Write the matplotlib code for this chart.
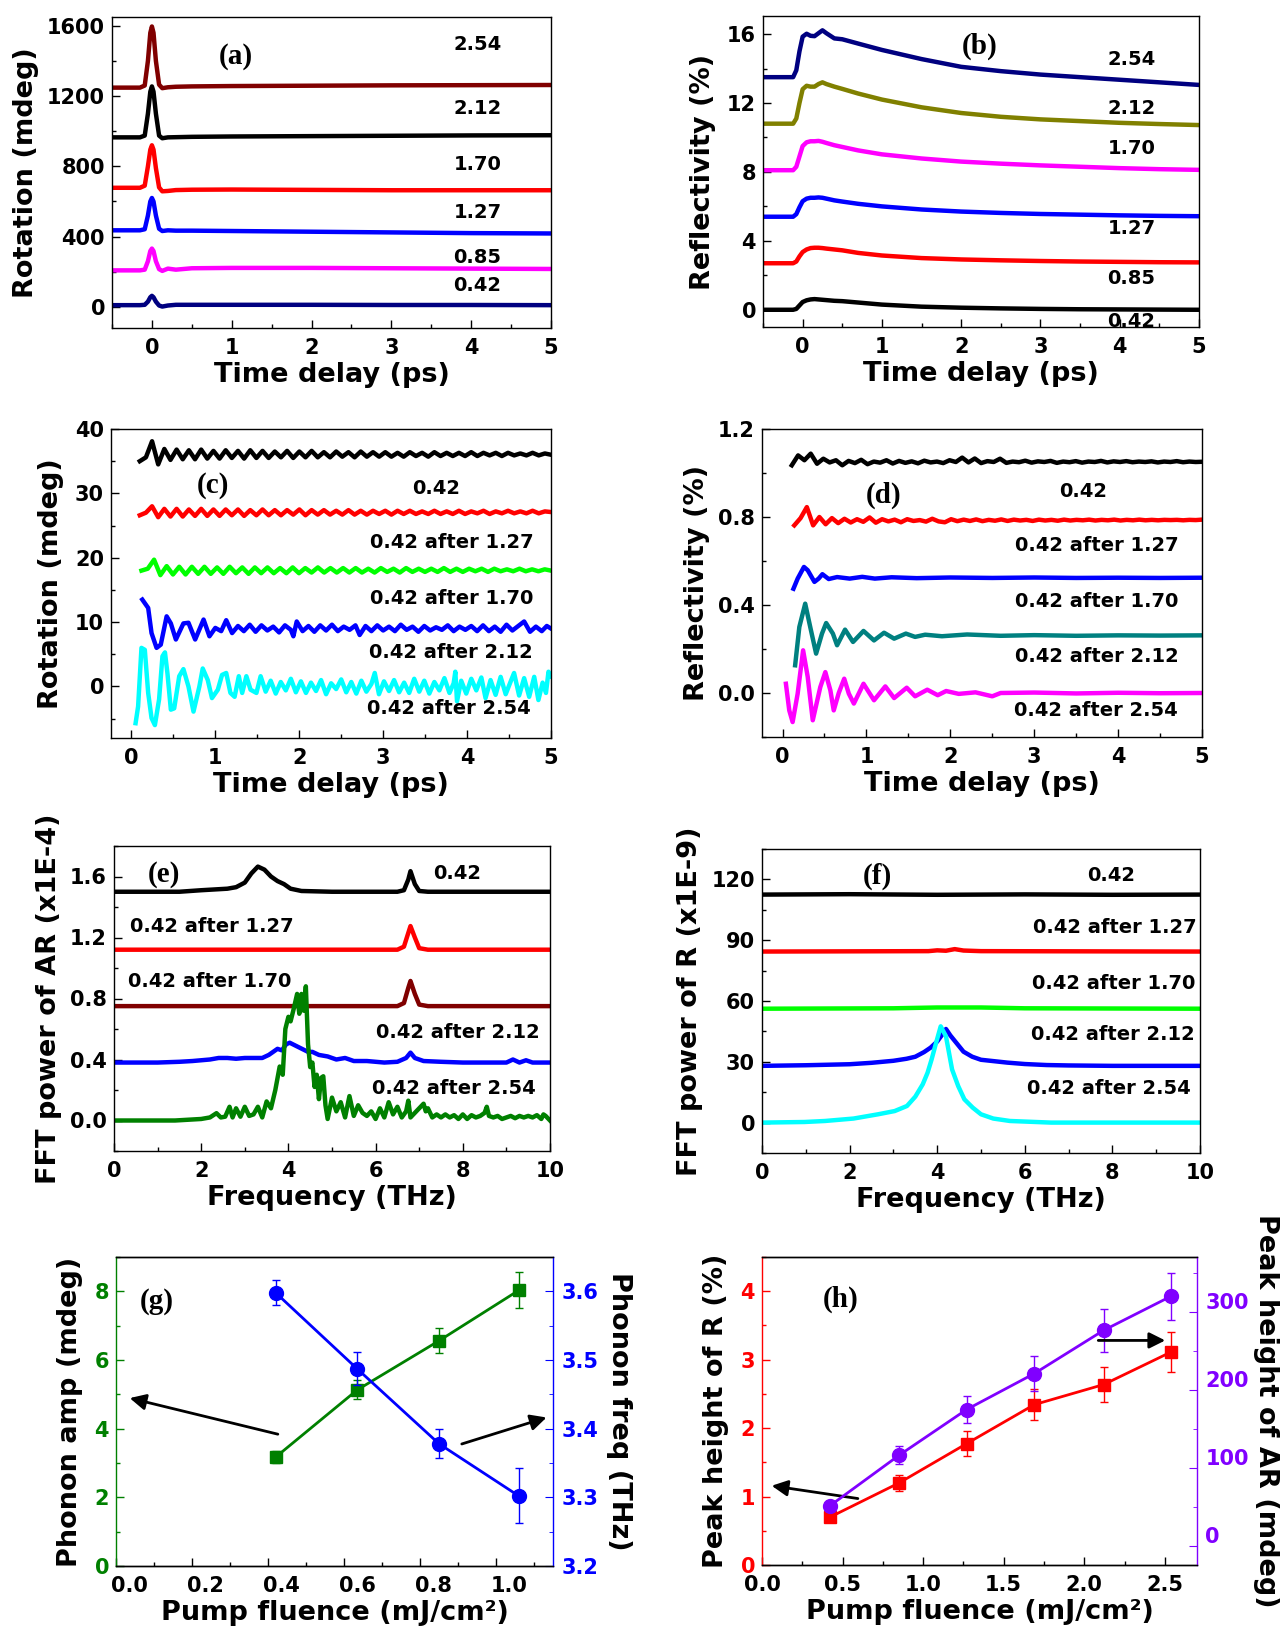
import numpy as np
import matplotlib
matplotlib.use('Agg')
from matplotlib import pyplot as plt
from matplotlib.ticker import MultipleLocator, FormatStrFormatter
from matplotlib.transforms import ScaledTranslation

plt.rcParams['font.family'] = 'DejaVu Sans'
plt.rcParams['font.weight'] = 'bold'
plt.rcParams['axes.labelweight'] = 'bold'
plt.rcParams['axes.linewidth'] = 1.0

# ---------------- (a) rotation vs delay, fluences
t_a = [-0.5, -0.15, -0.09, -0.05, -0.02, 0.0, 0.02, 0.05, 0.09, 0.13, 0.2, 0.3, 0.5, 1.0, 2.0, 3.0, 4.0, 5.0]
rot_042 = [10, 10, 12, 30, 55, 63, 55, 30, 8, 2, 8, 12, 12, 12, 12, 11, 11, 10]
rot_085 = [208, 208, 212, 260, 318, 332, 318, 260, 215, 205, 218, 212, 220, 222, 222, 220, 218, 216]
rot_127 = [436, 436, 442, 520, 600, 620, 600, 520, 445, 432, 436, 434, 434, 432, 428, 424, 420, 418]
rot_170 = [678, 678, 690, 800, 895, 920, 895, 790, 680, 658, 660, 665, 667, 668, 666, 664, 664, 664]
rot_212 = [965, 965, 975, 1100, 1225, 1255, 1225, 1100, 975, 960, 965, 966, 968, 970, 972, 974, 976, 977]
rot_254 = [1248, 1248, 1260, 1400, 1560, 1596, 1560, 1400, 1265, 1245, 1250, 1253, 1255, 1257, 1259, 1261, 1262, 1263]
fluences = ['0.42', '0.85', '1.27', '1.70', '2.12', '2.54']
lab_a_y = [120, 282, 539, 811, 1130, 1491]

# ---------------- (b) reflectivity vs delay
t_b = [-0.5, -0.12, -0.08, -0.04, 0.0, 0.05, 0.1, 0.15, 0.2, 0.25, 0.3, 0.4, 0.5, 0.7,
       1.0, 1.5, 2.0, 2.5, 3.0, 3.5, 4.0, 4.5, 5.0]
refl_042 = [0, 0, 0.05, 0.25, 0.45, 0.55, 0.6, 0.62, 0.6, 0.58, 0.56, 0.52, 0.5, 0.42,
            0.3, 0.18, 0.12, 0.08, 0.05, 0.03, 0.02, 0.01, 0.0]
refl_085 = [2.7, 2.7, 2.8, 3.1, 3.35, 3.5, 3.58, 3.6, 3.6, 3.58, 3.55, 3.5, 3.45, 3.3,
            3.15, 3.0, 2.92, 2.87, 2.83, 2.8, 2.78, 2.76, 2.75]
refl_127 = [5.4, 5.4, 5.55, 5.95, 6.3, 6.45, 6.5, 6.5, 6.52, 6.5, 6.45, 6.35, 6.28, 6.15,
            6.0, 5.82, 5.7, 5.62, 5.56, 5.52, 5.48, 5.45, 5.43]
refl_170 = [8.1, 8.1, 8.3, 8.9, 9.5, 9.72, 9.78, 9.78, 9.8, 9.75, 9.68, 9.55, 9.45, 9.25,
            9.02, 8.78, 8.6, 8.48, 8.38, 8.3, 8.22, 8.16, 8.12]
refl_212 = [10.8, 10.8, 11.1, 12.0, 12.8, 13.0, 12.95, 12.95, 13.1, 13.2, 13.1, 12.95, 12.82, 12.55,
            12.2, 11.75, 11.42, 11.2, 11.05, 10.95, 10.85, 10.78, 10.72]
refl_254 = [13.5, 13.5, 13.9, 15.0, 15.85, 16.02, 15.9, 15.88, 16.05, 16.22, 16.05, 15.75, 15.7, 15.45,
            15.08, 14.55, 14.1, 13.85, 13.65, 13.5, 13.35, 13.2, 13.05]
lab_b_y = [-0.66, 1.80, 4.71, 9.36, 11.69, 14.5]

# ---------------- (c) rotation, 0.42 after higher fluences
c_042 = [
    35.0, 35.6, 38.1, 34.5, 36.9, 35.2, 36.8, 35.3, 36.7, 35.3,
    36.8, 35.4, 36.6, 35.4, 36.7, 35.5, 36.6, 35.4, 36.7, 35.5,
    36.6, 35.5, 36.5, 35.6, 36.6, 35.5, 36.5, 35.6, 36.6, 35.6,
    36.4, 35.6, 36.5, 35.7, 36.4, 35.6, 36.5, 35.7, 36.4, 35.7,
    36.4, 35.7, 36.3, 35.7, 36.4, 35.8, 36.3, 35.7, 36.4, 35.8,
    36.3, 35.8, 36.3, 35.8, 36.4, 35.8, 36.3, 35.9, 36.3, 35.8,
    36.3, 35.9, 36.2, 35.9, 36.3, 35.9, 36.2, 36.0]
c_127 = [
    26.6, 27.0, 28.0, 26.3, 27.6, 26.4, 27.6, 26.4, 27.5, 26.5,
    27.6, 26.5, 27.5, 26.5, 27.5, 26.6, 27.5, 26.5, 27.4, 26.6,
    27.5, 26.6, 27.4, 26.6, 27.4, 26.7, 27.5, 26.6, 27.4, 26.7,
    27.4, 26.7, 27.3, 26.7, 27.4, 26.7, 27.3, 26.7, 27.3, 26.8,
    27.3, 26.7, 27.3, 26.8, 27.3, 26.8, 27.2, 26.8, 27.3, 26.8,
    27.2, 26.8, 27.3, 26.8, 27.2, 26.9, 27.3, 26.8, 27.2, 26.9,
    27.3, 26.9, 27.2, 26.9, 27.3, 26.9, 27.2, 27.1]
c_170 = [
    18.0, 18.3, 19.7, 17.3, 18.7, 17.4, 18.6, 17.4, 18.6, 17.5,
    18.6, 17.5, 18.5, 17.5, 18.6, 17.6, 18.5, 17.5, 18.5, 17.6,
    18.5, 17.6, 18.4, 17.6, 18.5, 17.6, 18.4, 17.7, 18.5, 17.7,
    18.4, 17.7, 18.4, 17.7, 18.4, 17.7, 18.3, 17.7, 18.4, 17.8,
    18.3, 17.7, 18.4, 17.8, 18.3, 17.8, 18.3, 17.8, 18.4, 17.8,
    18.3, 17.8, 18.3, 17.9, 18.3, 17.8, 18.3, 17.9, 18.2, 17.9,
    18.3, 17.9, 18.2, 17.9, 18.2, 18.0]
t_c212 = [
    0.13, 0.20, 0.24, 0.30, 0.35, 0.42, 0.47, 0.53, 0.62, 0.68,
    0.76, 0.86, 0.93, 1.00, 1.07, 1.13, 1.20, 1.27, 1.34, 1.41,
    1.48, 1.55, 1.62, 1.69, 1.76, 1.83, 1.90, 1.93, 1.97, 2.04,
    2.11, 2.18, 2.25, 2.32, 2.39, 2.46, 2.53, 2.60, 2.67, 2.72,
    2.79, 2.86, 2.93, 3.00, 3.07, 3.14, 3.21, 3.28, 3.35, 3.42,
    3.49, 3.56, 3.63, 3.70, 3.77, 3.84, 3.91, 3.98, 4.05, 4.12,
    4.19, 4.26, 4.33, 4.40, 4.47, 4.54, 4.61, 4.68, 4.75, 4.82,
    4.89, 4.95, 5.00]
c_212 = [
    13.5, 12.2, 8.3, 6.0, 6.5, 10.9, 9.8, 7.3, 9.8, 9.9,
    7.3, 10.4, 7.8, 9.1, 8.6, 10.3, 8.3, 9.4, 8.6, 9.6,
    8.5, 9.5, 8.7, 9.3, 8.4, 9.5, 8.8, 7.8, 10.1, 8.6,
    9.4, 8.5, 9.5, 8.7, 9.6, 8.6, 9.3, 8.8, 9.5, 8.0,
    9.4, 8.6, 9.5, 8.7, 9.3, 8.6, 9.6, 8.8, 9.3, 8.5,
    9.4, 8.7, 9.2, 8.8, 9.5, 8.6, 9.3, 8.8, 9.4, 8.6,
    9.5, 8.6, 9.3, 8.5, 9.6, 8.7, 9.4, 10.1, 8.5, 9.3,
    8.6, 9.4, 9.0]
t_c254 = [
    0.05, 0.08, 0.12, 0.16, 0.20, 0.24, 0.28, 0.33, 0.37, 0.40,
    0.43, 0.47, 0.51, 0.57, 0.62, 0.68, 0.74, 0.81, 0.85, 0.91,
    0.96, 1.03, 1.08, 1.13, 1.18, 1.23, 1.28, 1.32, 1.37, 1.42,
    1.49, 1.54, 1.60, 1.66, 1.72, 1.78, 1.84, 1.90, 1.96, 2.02,
    2.08, 2.14, 2.20, 2.26, 2.32, 2.38, 2.44, 2.50, 2.56, 2.62,
    2.68, 2.74, 2.80, 2.86, 2.90, 2.95, 3.01, 3.07, 3.13, 3.19,
    3.25, 3.31, 3.37, 3.43, 3.49, 3.55, 3.61, 3.67, 3.73, 3.79,
    3.84, 3.86, 3.88, 3.93, 3.99, 4.05, 4.11, 4.17, 4.22, 4.28,
    4.34, 4.40, 4.46, 4.52, 4.56, 4.62, 4.68, 4.74, 4.80, 4.85,
    4.90, 4.94, 4.97, 5.00]
c_254 = [
    -5.7, -3.1, 6.0, 5.7, -1.0, -4.9, -6.0, -2.0, 4.7, 5.3,
    2.0, -3.6, -3.4, 1.6, 2.7, 0.0, -3.9, 0.0, 2.8, 1.0,
    -1.8, -0.5, 1.8, 2.1, -1.0, -1.6, 1.6, -1.0, 1.6, -0.5,
    -1.0, 1.6, -0.8, 0.9, -1.1, 0.7, -0.6, 1.2, -0.9, 0.8,
    -1.0, 0.6, -0.7, 1.0, -1.2, 0.5, -0.4, 1.1, -0.9, 0.7,
    -1.1, 0.9, -0.8, 0.4, 2.1, -1.2, 0.8, -0.7, 1.0, -0.9,
    0.6, -1.0, 1.2, -0.8, 0.9, -1.1, 0.7, -0.6, 1.3, -1.0,
    0.5, 2.3, -2.3, 0.9, -1.1, 1.2, -0.6, 1.4, -1.8, 1.0,
    -1.3, 1.5, -1.2, 0.8, 2.1, -1.4, 1.3, -1.6, 1.5, -2.1,
    0.6, -1.0, 2.3, 1.6]
after = ['0.42', '0.42 after 1.27', '0.42 after 1.70', '0.42 after 2.12', '0.42 after 2.54']

# ---------------- (d) reflectivity, 0.42 after higher fluences
d_042 = [
    1.035, 1.08, 1.058, 1.088, 1.042, 1.065, 1.048, 1.058, 1.035, 1.055,
    1.045, 1.06, 1.04, 1.052, 1.047, 1.058, 1.043, 1.055, 1.046, 1.053,
    1.044, 1.056, 1.048, 1.052, 1.045, 1.058, 1.05, 1.07, 1.048, 1.066,
    1.045, 1.054, 1.05, 1.065, 1.046, 1.052, 1.049, 1.056, 1.047, 1.053,
    1.05, 1.055, 1.046, 1.052, 1.049, 1.054, 1.047, 1.052, 1.05, 1.055,
    1.048, 1.053, 1.05, 1.054, 1.049, 1.052, 1.05, 1.053, 1.048, 1.052,
    1.05, 1.054, 1.049, 1.052, 1.05, 1.051]
d_127 = [
    0.762, 0.795, 0.845, 0.762, 0.80, 0.767, 0.795, 0.772, 0.792, 0.775,
    0.79, 0.778, 0.798, 0.774, 0.79, 0.78, 0.788, 0.776, 0.79, 0.782,
    0.786, 0.779, 0.792, 0.78, 0.776, 0.79, 0.781, 0.788, 0.782, 0.789,
    0.781, 0.787, 0.783, 0.789, 0.782, 0.788, 0.784, 0.787, 0.782, 0.788,
    0.784, 0.787, 0.783, 0.788, 0.784, 0.787, 0.785, 0.788, 0.784, 0.787,
    0.785, 0.788, 0.784, 0.787, 0.785, 0.788, 0.785, 0.787, 0.785, 0.787,
    0.786, 0.787, 0.785, 0.787, 0.786, 0.788]
t_d170 = [0.13, 0.18, 0.255, 0.30, 0.38, 0.43, 0.475, 0.55, 0.65, 0.8, 0.95,
          1.1, 1.3, 1.6, 2.0, 2.5, 3.0, 3.5, 4.0, 4.5, 5.0]
d_170 = [0.474, 0.52, 0.573, 0.558, 0.505, 0.52, 0.54, 0.518, 0.527, 0.52, 0.528,
         0.52, 0.526, 0.522, 0.525, 0.523, 0.525, 0.523, 0.524, 0.523, 0.524]
t_d212 = [0.15, 0.2, 0.27, 0.33, 0.40, 0.47, 0.52, 0.6, 0.65, 0.745, 0.84, 0.965, 1.09,
          1.21, 1.33, 1.47, 1.58, 1.7, 1.9, 2.2, 2.6, 3.0, 3.5, 4.0, 4.5, 5.0]
d_212 = [0.126, 0.30, 0.406, 0.30, 0.179, 0.27, 0.318, 0.27, 0.217, 0.288, 0.232, 0.282, 0.239,
         0.274, 0.247, 0.27, 0.255, 0.265, 0.258, 0.266, 0.26, 0.263, 0.26, 0.262, 0.261, 0.262]
t_d254 = [0.04, 0.08, 0.12, 0.18, 0.245, 0.30, 0.36, 0.45, 0.51, 0.57, 0.61,
          0.67, 0.735, 0.79, 0.85, 0.965, 1.09, 1.225, 1.33, 1.48, 1.58, 1.725,
          1.85, 1.95, 2.1, 2.3, 2.5, 2.6, 3.0, 3.5, 4.0, 4.5, 5.0]
d_254 = [0.042, -0.079, -0.132, -0.003, 0.194, 0.073, -0.124, 0.027, 0.095, 0.012, -0.079,
         0.0, 0.065, -0.003, -0.048, 0.042, -0.033, 0.03, -0.023, 0.024, -0.015, 0.015,
         -0.01, 0.009, -0.004, 0.003, -0.015, 0.0, 0.002, -0.002, 0.001, -0.001, 0.0]

# ---------------- (e) FFT power of rotation
f_e042 = [0, 1.5, 2.0, 2.3, 2.6, 2.8, 3.0, 3.15, 3.3, 3.45, 3.6, 3.75, 3.9, 4.05,
          4.3, 5.0, 6.0, 6.5, 6.65, 6.75, 6.8, 6.9, 7.0, 7.2, 8.0, 9.0, 10.0]
e_042 = [1.50, 1.50, 1.51, 1.515, 1.52, 1.53, 1.56, 1.62, 1.665, 1.645, 1.60, 1.57, 1.55, 1.52,
         1.505, 1.50, 1.50, 1.50, 1.51, 1.58, 1.635, 1.55, 1.505, 1.50, 1.50, 1.50, 1.50]
f_e68 = [0, 6.5, 6.65, 6.75, 6.8, 6.9, 7.0, 7.2, 10.0]
e_127 = [1.12, 1.12, 1.14, 1.23, 1.275, 1.20, 1.13, 1.12, 1.12]
e_170 = [0.75, 0.75, 0.77, 0.87, 0.915, 0.83, 0.76, 0.75, 0.75]
f_e212 = [0, 1.0, 1.5, 1.8, 2.0, 2.2, 2.4, 2.6, 2.8, 3.0,
          3.2, 3.4, 3.55, 3.65, 3.75, 3.85, 3.95, 4.03, 4.45, 4.55,
          4.7, 4.9, 5.1, 5.3, 5.5, 5.8, 6.2, 6.5, 6.7, 6.8,
          6.9, 7.1, 7.5, 8.0, 8.5, 9.0, 9.15, 9.3, 9.45, 9.6, 10.0]
e_212 = [0.38, 0.38, 0.385, 0.39, 0.395, 0.40, 0.41, 0.41, 0.405, 0.41,
         0.41, 0.41, 0.43, 0.45, 0.47, 0.46, 0.5, 0.51, 0.45, 0.45,
         0.43, 0.42, 0.40, 0.41, 0.39, 0.39, 0.38, 0.385, 0.41, 0.445,
         0.41, 0.39, 0.385, 0.38, 0.38, 0.38, 0.40, 0.38, 0.395, 0.38, 0.38]
f_e254 = [0.0, 1.4, 1.7, 2.0, 2.2, 2.35, 2.45, 2.55, 2.65, 2.72,
          2.8, 2.9, 3.0, 3.1, 3.2, 3.3, 3.4, 3.5, 3.6, 3.7,
          3.8, 3.87, 3.93, 4.0, 4.05, 4.12, 4.2, 4.25, 4.3, 4.35,
          4.4, 4.45, 4.5, 4.55, 4.6, 4.65, 4.7, 4.75, 4.8, 4.85,
          4.9, 5.0, 5.1, 5.2, 5.3, 5.4, 5.5, 5.6, 5.7, 5.8,
          5.9, 6.0, 6.1, 6.2, 6.3, 6.4, 6.5, 6.6, 6.7, 6.75,
          6.8, 6.9, 7.0, 7.1, 7.15, 7.2, 7.3, 7.4, 7.5, 7.6,
          7.7, 7.8, 7.9, 8.0, 8.1, 8.2, 8.3, 8.4, 8.5, 8.55,
          8.6, 8.7, 8.8, 8.9, 9.0, 9.1, 9.2, 9.3, 9.4, 9.5,
          9.6, 9.7, 9.8, 9.85, 9.9, 10.0]
e_254 = [0.0, 0.0, 0.005, 0.01, 0.02, 0.048, 0.02, 0.025, 0.09, 0.02,
         0.08, 0.025, 0.09, 0.03, 0.04, 0.09, 0.02, 0.125, 0.08, 0.2,
         0.354, 0.3, 0.6, 0.68, 0.65, 0.73, 0.83, 0.7, 0.83, 0.72,
         0.88, 0.5, 0.35, 0.38, 0.22, 0.3, 0.14, 0.28, 0.29, 0.1,
         0.01, 0.15, 0.06, 0.12, 0.02, 0.16, 0.03, 0.1, 0.05, 0.03,
         0.06, 0.01, 0.08, 0.02, 0.12, 0.04, 0.09, 0.02, 0.06, 0.13,
         0.02, 0.05, 0.08, 0.11, 0.06, 0.08, 0.02, 0.04, 0.02, 0.04,
         0.02, 0.035, 0.01, 0.04, 0.01, 0.035, 0.02, 0.03, 0.05, 0.09,
         0.03, 0.02, 0.03, 0.01, 0.02, 0.03, 0.015, 0.03, 0.02, 0.03,
         0.02, 0.035, 0.01, 0.04, 0.03, 0.0]

# ---------------- (f) FFT power of reflectivity
f_f042 = [0, 2, 4, 6, 8, 10]
p_042 = [112.5, 112.7, 112.4, 112.6, 112.4, 112.5]
f_f127 = [0, 3.8, 4.0, 4.2, 4.4, 4.6, 5.0, 10]
p_127 = [84.4, 84.6, 85.0, 84.8, 85.6, 84.9, 84.6, 84.4]
f_f170 = [0, 3, 4, 5, 6, 10]
p_170 = [56.2, 56.4, 56.8, 56.8, 56.4, 56.2]
f_f212 = [0, 1, 2, 2.5, 3.0, 3.3, 3.5, 3.7, 3.85, 4.0, 4.1, 4.2, 4.3, 4.45,
          4.6, 4.8, 5.0, 5.3, 5.6, 6.0, 6.5, 7, 8, 10]
p_212 = [28, 28.3, 28.8, 29.5, 30.5, 31.5, 32.5, 34.8, 37, 40, 43, 46.2, 43, 39,
         35, 32.5, 31, 30.3, 29.6, 28.9, 28.4, 28.2, 28, 28]
f_f254 = [0, 0.97, 1.44, 2.09, 2.65, 3.03, 3.31, 3.5, 3.67, 3.78, 3.87, 3.97,
          4.08, 4.2, 4.34, 4.48, 4.62, 4.81, 5.0, 5.28, 5.66, 6.6, 8.0, 10.0]
p_254 = [0, 0.3, 0.8, 2.0, 4.1, 5.7, 8.2, 12.8, 18.9, 24.6, 31.0, 39.0,
         47.5, 42.6, 26.2, 18.0, 11.5, 7.4, 4.1, 2.0, 0.8, 0.0, 0.0, 0.0]

# ---------------- (g) phonon amplitude / frequency
fl_g = [0.42, 0.635, 0.85, 1.06]
amp_g = [3.17, 5.13, 6.56, 8.03]
amp_err = [0.17, 0.28, 0.37, 0.52]
freq_g = [3.598, 3.487, 3.378, 3.302]
freq_err = [0.018, 0.024, 0.021, 0.04]

# ---------------- (h) peak heights
fl_h = [0.42, 0.85, 1.27, 1.69, 2.12, 2.54]
pk_R = [0.697, 1.198, 1.773, 2.343, 2.636, 3.113]
pk_R_err = [0.05, 0.12, 0.18, 0.23, 0.26, 0.29]
pk_AR = [50.7, 115.6, 174.4, 220.5, 275.9, 319.8]
pk_AR_err = [5, 11.7, 17.5, 22, 28, 30]

W, H = 1284, 1638
fig = plt.figure(figsize=(W / 100, H / 100), dpi=100)


def panel(l, t, r, b):
    return fig.add_axes([l / W, 1 - b / H, (r - l) / W, (b - t) / H])


def style(ax, xmaj, xmin, ymaj, ymin):
    ax.xaxis.set_major_locator(MultipleLocator(xmaj))
    ax.xaxis.set_minor_locator(MultipleLocator(xmin))
    ax.yaxis.set_major_locator(MultipleLocator(ymaj))
    ax.yaxis.set_minor_locator(MultipleLocator(ymin))
    ax.tick_params(which='both', direction='in', top=False, right=False,
                   labelsize=15, width=1)
    ax.tick_params(which='major', length=6)
    ax.tick_params(which='minor', length=3)
    ax.tick_params(axis='x', pad=7)
    ax.tick_params(axis='y', pad=5)


def tag(ax, x, y, s):
    ax.text(x, y, s, family='Liberation Serif', fontsize=21, fontweight='bold',
            ha='center', va='center')


def note(ax, x, y, s, **kw):
    ax.text(x, y, s, fontsize=14, fontweight='bold', ha='center', va='center', **kw)


def shift_labels(labels, dx, dy):
    for lb in labels:
        lb.set_transform(lb.get_transform() + ScaledTranslation(dx / 100, dy / 100, fig.dpi_scale_trans))


LW = 3.2
XL = 19.5

# (a)
ax = panel(112, 17, 551, 328)
cols_a = ['#000080', '#ff00ff', '#0000ff', '#ff0000', '#000000', '#800000']
for y, c in zip([rot_042, rot_085, rot_127, rot_170, rot_212, rot_254], cols_a):
    ax.plot(t_a, y, color=c, lw=LW)
for s, y in zip(fluences, lab_a_y):
    note(ax, 4.08, y, s)
tag(ax, 1.05, 1425, '(a)')
ax.set_xlim(-0.5, 5)
ax.set_ylim(-120, 1650)
style(ax, 1, 0.5, 400, 200)
ax.set_xlabel('Time delay (ps)', fontsize=XL, labelpad=3)
ax.set_ylabel('Rotation (mdeg)', fontsize=XL, labelpad=6)

# (b)
ax = panel(763, 16, 1199, 327)
cols_b = ['#000000', '#ff0000', '#0000ff', '#ff00ff', '#808000', '#000080']
for y, c in zip([refl_042, refl_085, refl_127, refl_170, refl_212, refl_254], cols_b):
    ax.plot(t_b, y, color=c, lw=LW)
for s, y in zip(fluences, lab_b_y):
    note(ax, 4.15, y, s, clip_on=True)
tag(ax, 2.23, 15.27, '(b)')
ax.set_xlim(-0.5, 5)
ax.set_ylim(-1.0, 17.05)
style(ax, 1, 0.5, 4, 2)
ax.set_xlabel('Time delay (ps)', fontsize=XL, labelpad=3)
ax.set_ylabel('Reflectivity (%)', fontsize=XL, labelpad=8)

# (c)
ax = panel(111, 429, 551, 738)
ax.plot(np.linspace(0.1, 5, len(c_042)), c_042, color='#000000', lw=LW)
ax.plot(np.linspace(0.1, 5, len(c_127)), c_127, color='#ff0000', lw=LW)
ax.plot(np.linspace(0.12, 5, len(c_170)), c_170, color='#00ff00', lw=LW)
ax.plot(t_c212, c_212, color='#0000ff', lw=LW)
ax.plot(t_c254, c_254, color='#00ffff', lw=LW)
for s, x, y in zip(after, [3.63, 3.82, 3.82, 3.81, 3.78], [30.7, 22.3, 13.6, 5.3, -3.37]):
    note(ax, x, y, s)
tag(ax, 0.97, 31.3, '(c)')
ax.set_xlim(-0.243, 5)
ax.set_ylim(-8, 40)
style(ax, 1, 0.5, 10, 5)
ax.set_xlabel('Time delay (ps)', fontsize=XL, labelpad=3)
ax.set_ylabel('Rotation (mdeg)', fontsize=XL, labelpad=8)

# (d)
ax = panel(762, 429, 1202, 737)
ax.plot(np.linspace(0.11, 5, len(d_042)), d_042, color='#000000', lw=LW)
ax.plot(np.linspace(0.14, 5, len(d_127)), d_127, color='#ff0000', lw=LW)
ax.plot(t_d170, d_170, color='#0000ff', lw=LW)
ax.plot(t_d212, d_212, color='#008080', lw=LW)
ax.plot(t_d254, d_254, color='#ff00ff', lw=LW)
for s, x, y in zip(after, [3.58, 3.75, 3.75, 3.75, 3.74], [0.914, 0.671, 0.417, 0.168, -0.079]):
    note(ax, x, y, s)
tag(ax, 1.2, 0.898, '(d)')
ax.set_xlim(-0.245, 5)
ax.set_ylim(-0.2, 1.2)
style(ax, 1, 0.5, 0.4, 0.2)
ax.yaxis.set_major_formatter(FormatStrFormatter('%.1f'))
ax.set_xlabel('Time delay (ps)', fontsize=XL, labelpad=3)
ax.set_ylabel('Reflectivity (%)', fontsize=XL, labelpad=6)

# (e)
ax = panel(114, 846, 550, 1151)
ax.plot(f_e042, e_042, color='#000000', lw=LW)
ax.plot(f_e68, e_127, color='#ff0000', lw=LW)
ax.plot(f_e68, e_170, color='#800000', lw=LW)
ax.plot(f_e212, e_212, color='#0000ff', lw=LW)
ax.plot(f_e254, e_254, color='#008000', lw=LW)
for s, x, y in zip(after, [7.87, 2.25, 2.2, 7.88, 7.79], [1.617, 1.272, 0.911, 0.577, 0.212]):
    note(ax, x, y, s)
tag(ax, 1.14, 1.61, '(e)')
ax.set_xlim(0, 10)
ax.set_ylim(-0.2, 1.8)
style(ax, 2, 1, 0.4, 0.2)
ax.yaxis.set_major_formatter(FormatStrFormatter('%.1f'))
ax.set_xlabel('Frequency (THz)', fontsize=XL, labelpad=3)
ax.set_ylabel('FFT power of AR (x1E-4)', fontsize=XL, labelpad=6)

# (f)
ax = panel(762, 849, 1200, 1153)
ax.plot(f_f042, p_042, color='#000000', lw=LW)
ax.plot(f_f127, p_127, color='#ff0000', lw=LW)
ax.plot(f_f170, p_170, color='#00ff00', lw=LW)
ax.plot(f_f212, p_212, color='#0000ff', lw=LW)
ax.plot(f_f254, p_254, color='#00ffff', lw=LW)
for s, x, y in zip(after, [7.98, 8.05, 8.02, 8.0, 7.91], [121.8, 96.4, 68.5, 43.4, 16.9]):
    note(ax, x, y, s)
tag(ax, 2.64, 121.3, '(f)')
ax.set_xlim(0, 10)
ax.set_ylim(-15, 135)
style(ax, 2, 1, 30, 15)
ax.set_xlabel('Frequency (THz)', fontsize=XL, labelpad=3)
ax.set_ylabel('FFT power of R (x1E-9)', fontsize=XL, labelpad=6)

# (g)
GREEN, BLUE = '#008000', '#0000ff'
ax = panel(116, 1257, 553, 1566)
ax.errorbar(fl_g, amp_g, yerr=amp_err, color=GREEN, marker='s', ms=9, lw=2,
            capsize=3, elinewidth=1, capthick=1)
ax.annotate('', xy=(0.029, 4.91), xytext=(0.433, 3.82),
            arrowprops=dict(arrowstyle='-|>', color='k', lw=2, mutation_scale=24))
ax.annotate('', xy=(1.14, 4.35), xytext=(0.903, 3.53),
            arrowprops=dict(arrowstyle='-|>', color='k', lw=2, mutation_scale=24))
tag(ax, 0.108, 7.7, '(g)')
ax.set_xlim(0, 1.15)
ax.set_ylim(0, 9)
style(ax, 0.2, 0.1, 2, 1)
ax.xaxis.set_major_formatter(FormatStrFormatter('%.1f'))
ax.tick_params(axis='y', which='both', colors=GREEN)
ax.spines['left'].set_color(GREEN)
ax.spines['right'].set_visible(False)
ax.set_xlabel('Pump fluence (mJ/cm²)', fontsize=XL, labelpad=3)
ax.set_ylabel('Phonon amp (mdeg)', fontsize=XL, labelpad=8)
fig.canvas.draw()
shift_labels(ax.get_xticklabels(), 13, 0)
ax2 = ax.twinx()
ax2.errorbar(fl_g, freq_g, yerr=freq_err, color=BLUE, marker='o', ms=10, lw=2,
             capsize=3, elinewidth=1, capthick=1)
ax2.set_ylim(3.2, 3.65)
ax2.yaxis.set_major_locator(MultipleLocator(0.1))
ax2.yaxis.set_minor_locator(MultipleLocator(0.05))
ax2.yaxis.set_major_formatter(FormatStrFormatter('%.1f'))
ax2.tick_params(axis='y', which='both', direction='in', colors=BLUE, labelsize=15, pad=6)
ax2.tick_params(axis='y', which='major', length=6)
ax2.tick_params(axis='y', which='minor', length=3)
ax2.spines['right'].set_color(BLUE)
ax2.spines['left'].set_visible(False)
ax2.set_ylabel('Phonon freq (THz)', fontsize=XL, rotation=270, labelpad=24)

# (h)
RED, PURPLE = '#ff0000', '#8000ff'
ax = panel(762, 1257, 1197, 1565)
ax.errorbar(fl_h, pk_R, yerr=pk_R_err, color=RED, marker='s', ms=8, lw=2,
            capsize=3, elinewidth=1, capthick=1)
ax.annotate('', xy=(0.043, 1.164), xytext=(0.612, 0.965),
            arrowprops=dict(arrowstyle='-|>', color='k', lw=2, mutation_scale=24))
tag(ax, 0.485, 3.88, '(h)')
ax.set_xlim(0, 2.7)
ax.set_ylim(0, 4.5)
style(ax, 0.5, 0.25, 1, 0.5)
ax.xaxis.set_major_formatter(FormatStrFormatter('%.1f'))
ax.tick_params(axis='y', which='both', colors=RED)
ax.spines['left'].set_color(RED)
ax.spines['right'].set_visible(False)
ax.set_xlabel('Pump fluence (mJ/cm²)', fontsize=XL, labelpad=3)
ax.set_ylabel('Peak height of R (%)', fontsize=XL, labelpad=8)
ax2 = ax.twinx()
ax2.errorbar(fl_h, pk_AR, yerr=pk_AR_err, color=PURPLE, marker='o', ms=10, lw=2,
             capsize=3, elinewidth=1, capthick=1)
ax2.annotate('', xy=(2.52, 263), xytext=(2.07, 263),
             arrowprops=dict(arrowstyle='-|>', color='k', lw=2, mutation_scale=24))
ax2.set_ylim(-25, 370)
ax2.yaxis.set_major_locator(MultipleLocator(100))
ax2.yaxis.set_minor_locator(MultipleLocator(50))
ax2.tick_params(axis='y', which='both', direction='in', colors=PURPLE, labelsize=15, pad=6)
ax2.tick_params(axis='y', which='major', length=6)
ax2.tick_params(axis='y', which='minor', length=3)
ax2.spines['right'].set_color(PURPLE)
ax2.spines['left'].set_visible(False)
ax2.set_ylabel('Peak height of AR (mdeg)', fontsize=XL, rotation=270, labelpad=22)
fig.canvas.draw()
shift_labels(ax2.get_yticklabels(), 0, 11)

fig.savefig('out.png', dpi=100)
